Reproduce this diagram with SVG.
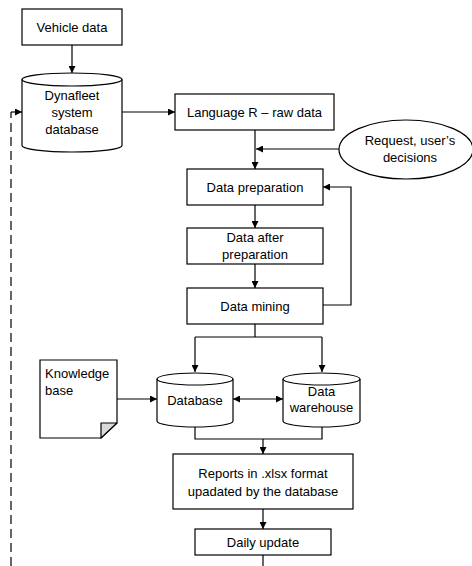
<svg xmlns="http://www.w3.org/2000/svg" width="472" height="566" viewBox="0 0 472 566">
  <style>
    .box { fill: #ffffff; stroke: #000000; stroke-width: 1.2; }
    .line { fill: none; stroke: #000000; stroke-width: 1.2; }
    .dash { fill: none; stroke: #000000; stroke-width: 1.2; stroke-dasharray: 9 5; }
    .lbl { font-family: "Liberation Sans", Arial, sans-serif; font-size: 13px; fill: #000000; text-anchor: middle; }
    .lft { text-anchor: start; }
  </style>
  <defs>
    <marker id="arrow" viewBox="0 0 10 10" refX="10" refY="5" markerWidth="8" markerHeight="7" markerUnits="userSpaceOnUse" orient="auto-start-reverse">
      <path d="M0,0 L10,5 L0,10 Z" fill="#000000"/>
    </marker>
  </defs>

  <rect width="472" height="566" fill="#ffffff"/>

  <!-- connectors -->
  <g id="connectors">
    <line class="line" x1="72" y1="45" x2="72" y2="73" marker-end="url(#arrow)"/>
    <path class="dash" d="M11,566 L11,112"/>
    <line class="line" x1="11" y1="112" x2="22" y2="112" marker-end="url(#arrow)"/>
    <line class="line" x1="122" y1="112" x2="175" y2="112" marker-end="url(#arrow)"/>
    <line class="line" x1="255" y1="130" x2="255" y2="169" marker-end="url(#arrow)"/>
    <line class="line" x1="339" y1="149" x2="256" y2="149" marker-end="url(#arrow)"/>
    <line class="line" x1="255" y1="205" x2="255" y2="228" marker-end="url(#arrow)"/>
    <line class="line" x1="255" y1="264" x2="255" y2="288" marker-end="url(#arrow)"/>
    <path class="line" d="M323,305 L351,305 L351,187 L323,187" marker-end="url(#arrow)"/>
    <path class="line" d="M255,324 L255,337"/>
    <path class="line" d="M195,337 L322,337"/>
    <line class="line" x1="195" y1="337" x2="195" y2="372" marker-end="url(#arrow)"/>
    <line class="line" x1="322" y1="337" x2="322" y2="372" marker-end="url(#arrow)"/>
    <line class="line" x1="117" y1="399" x2="157" y2="399" marker-end="url(#arrow)"/>
    <line class="line" x1="233" y1="399" x2="283" y2="399" marker-start="url(#arrow)" marker-end="url(#arrow)"/>
    <path class="line" d="M195,427 L195,439 L322,439 L322,427"/>
    <line class="line" x1="263" y1="439" x2="263" y2="454" marker-end="url(#arrow)"/>
    <line class="line" x1="263" y1="509" x2="263" y2="529" marker-end="url(#arrow)"/>
    <line class="line" x1="263" y1="555" x2="263" y2="566"/>
  </g>

  <g id="vehicle-data">
    <rect class="box" x="22" y="9" width="100" height="36"/>
    <text class="lbl" x="72" y="31.5">Vehicle data</text>
  </g>

  <g id="dynafleet-db">
    <path class="box" d="M22,79.5 L22,145.5 A50,6.5 0 0 0 122,145.5 L122,79.5 A50,6.5 0 0 0 22,79.5 Z"/>
    <path class="line" d="M22,79.5 A50,6.5 0 0 0 122,79.5"/>
    <text class="lbl" x="72" y="100">Dynafleet</text>
    <text class="lbl" x="72" y="117">system</text>
    <text class="lbl" x="72" y="134">database</text>
  </g>

  <g id="language-r">
    <rect class="box" x="175" y="94" width="159" height="36"/>
    <text class="lbl" x="254.5" y="116.5">Language R – raw data</text>
  </g>

  <g id="request">
    <ellipse class="box" cx="406" cy="149.5" rx="67" ry="29.5"/>
    <text class="lbl" x="410" y="145">Request, user’s</text>
    <text class="lbl" x="410" y="162">decisions</text>
  </g>

  <g id="data-preparation">
    <rect class="box" x="187" y="169" width="136" height="36"/>
    <text class="lbl" x="255" y="191.5">Data preparation</text>
  </g>

  <g id="data-after-preparation">
    <rect class="box" x="187" y="228" width="136" height="36"/>
    <text class="lbl" x="255" y="242">Data after</text>
    <text class="lbl" x="255" y="259">preparation</text>
  </g>

  <g id="data-mining">
    <rect class="box" x="187" y="288" width="136" height="36"/>
    <text class="lbl" x="255" y="310.5">Data mining</text>
  </g>

  <g id="knowledge-base">
    <path class="box" d="M40,360 L117,360 L117,423 L101,438 L40,438 Z"/>
    <path d="M101,423 L117,423 L101,438 Z" fill="#d9d9d9" stroke="#000000" stroke-width="1.2" stroke-linejoin="round"/>
    <text class="lbl lft" x="45" y="378">Knowledge</text>
    <text class="lbl lft" x="45" y="395">base</text>
  </g>

  <g id="database">
    <path class="box" d="M157,379 L157,421 A38,6 0 0 0 233,421 L233,379 A38,6 0 0 0 157,379 Z"/>
    <path class="line" d="M157,379 A38,6 0 0 0 233,379"/>
    <text class="lbl" x="195" y="404.5">Database</text>
  </g>

  <g id="data-warehouse">
    <path class="box" d="M283,379 L283,421 A38.5,6 0 0 0 360,421 L360,379 A38.5,6 0 0 0 283,379 Z"/>
    <path class="line" d="M283,379 A38.5,6 0 0 0 360,379"/>
    <text class="lbl" x="321.5" y="395.5">Data</text>
    <text class="lbl" x="321.5" y="412">warehouse</text>
  </g>

  <g id="reports">
    <rect class="box" x="173" y="454" width="180" height="55"/>
    <text class="lbl" x="263" y="477.5">Reports in .xlsx format</text>
    <text class="lbl" x="263" y="495.5">upadated by the database</text>
  </g>

  <g id="daily-update">
    <rect class="box" x="195" y="529" width="136" height="26"/>
    <text class="lbl" x="263" y="546.5">Daily update</text>
  </g>
</svg>
